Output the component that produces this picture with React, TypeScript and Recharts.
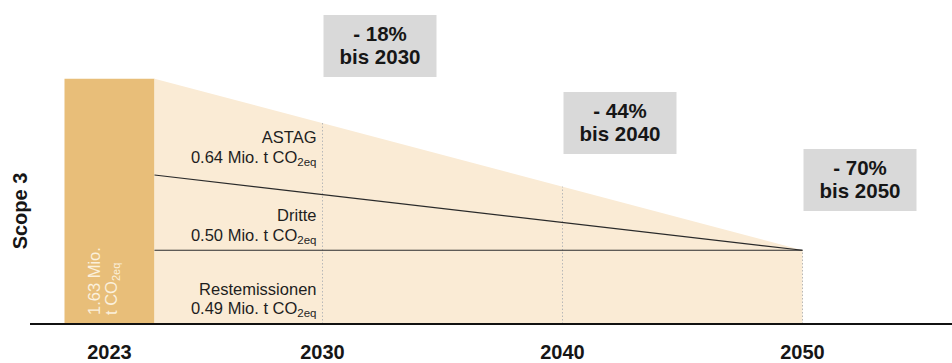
import React from "react";
import {
  ComposedChart,
  Area,
  Line,
  XAxis,
  YAxis,
  ReferenceArea,
  ReferenceLine,
} from "recharts";

// ---------- data ----------
const years = [2023, 2050];
const restemissionen = [0.49, 0.49];
const dritte = [0.5, 0.0];
const astag = [0.64, 0.0];

const baseYearLabel = "2023";
const baseTotal = 1.63;
const baseSpan = [2019.25, 2023];

const milestoneYears = [2030, 2040, 2050];
const milestoneReductions = [18, 44, 70];

const segmentNames = ["Restemissionen", "Dritte", "ASTAG"];
const segmentValues = ["0.49", "0.50", "0.64"];

// ---------- style / layout ----------
const FONT = "'Liberation Sans', Arial, Helvetica, sans-serif";
const BAR = "#E8BE79";
const AREA = "#FAEBD5";
const LINE = "#2a2a2a";
const BOX = "#D9D9D9";
const TEXT = "#161616";
const BOX_TOPS = [15, 92, 149];
const BOX_W = 113;
const BOX_H = 62;
// baselines (px) for segment labels: [name, value] per segment
const SEG_BASELINES = [
  [295, 314],
  [221, 241],
  [143, 163],
];

const barCenter = (baseSpan[0] + baseSpan[1]) / 2;
const ticks = [barCenter, ...milestoneYears];

const rows = years.map((year, i) => ({
  year,
  rest: restemissionen[i],
  dritte: dritte[i],
  astag: astag[i],
}));

const BarLabel = (props: any) => {
  const vb = props.viewBox || {};
  const bottom = vb.y + vb.height - 9;
  const x1 = vb.x + 35;
  const x2 = vb.x + 52;
  return (
    <g fontFamily={FONT} fill="#FBF0DC" fontSize={16.5}>
      <text x={x1} y={bottom} transform={`rotate(-90, ${x1}, ${bottom})`} textAnchor="start">
        {`${baseTotal.toFixed(2)} Mio.`}
      </text>
      <text x={x2} y={bottom} transform={`rotate(-90, ${x2}, ${bottom})`} textAnchor="start">
        t CO
        <tspan fontSize={11} dy={3}>2eq</tspan>
      </text>
    </g>
  );
};

const ScopeLabel = () => (
  <text
    x={27}
    y={211}
    transform="rotate(-90, 27, 211)"
    textAnchor="middle"
    fontFamily={FONT}
    fontWeight={700}
    fontSize={20}
    fill={TEXT}
  >
    Scope 3
  </text>
);

const MilestoneLabel = (props: any) => {
  const { viewBox, idx } = props;
  const left = viewBox.x + 1;
  const top = BOX_TOPS[idx];
  const cx = left + BOX_W / 2;
  return (
    <g fontFamily={FONT}>
      <rect x={left} y={top} width={BOX_W} height={BOX_H} fill={BOX} />
      <text x={cx} y={top + 26} textAnchor="middle" fontWeight={700} fontSize={20.5} fill={TEXT}>
        {`- ${milestoneReductions[idx]}%`}
      </text>
      <text x={cx} y={top + 49} textAnchor="middle" fontWeight={700} fontSize={20.5} fill={TEXT}>
        {`bis ${milestoneYears[idx]}`}
      </text>
      {idx === 0 &&
        segmentNames.map((name, i) => {
          const xr = viewBox.x - 6;
          return (
            <g key={name} fill="#1e1e1e" fontSize={16.5}>
              <text x={xr} y={SEG_BASELINES[i][0]} textAnchor="end">
                {name}
              </text>
              <text x={xr} y={SEG_BASELINES[i][1]} textAnchor="end">
                {`${segmentValues[i]} Mio. t CO`}
                <tspan fontSize={11.5} dy={3}>2eq</tspan>
              </text>
            </g>
          );
        })}
    </g>
  );
};

export default function App() {
  return (
    <div style={{ position: "absolute", left: 0, top: 0, width: 952, height: 363, background: "#fff" }}>
      <ComposedChart
        width={952}
        height={363}
        data={rows}
        margin={{ top: 23, right: 0, bottom: 0, left: 0 }}
      >
        <XAxis
          dataKey="year"
          type="number"
          domain={[2017.8125, 2056.229]}
          allowDataOverflow
          ticks={ticks}
          interval={0}
          tickFormatter={(v: number) => (v === barCenter ? baseYearLabel : String(v))}
          axisLine={{ stroke: "#111", strokeWidth: 2 }}
          tickLine={false}
          tickSize={6}
          tickMargin={14.5}
          height={39}
          tick={{ fill: TEXT, fontSize: 20, fontWeight: 700, fontFamily: FONT }}
        />
        <YAxis
          type="number"
          domain={[0, 2]}
          allowDataOverflow
          width={30}
          tick={false}
          axisLine={false}
          tickLine={false}
          label={<ScopeLabel />}
        />
        <ReferenceArea
          x1={baseSpan[0]}
          x2={baseSpan[1]}
          y1={0}
          y2={baseTotal}
          fill={BAR}
          fillOpacity={1}
          stroke="none"
          label={<BarLabel />}
        />
        <Area stackId="s" dataKey="rest" type="linear" fill={AREA} fillOpacity={1} stroke="none" isAnimationActive={false} />
        <Area stackId="s" dataKey="dritte" type="linear" fill={AREA} fillOpacity={1} stroke="none" isAnimationActive={false} />
        <Area stackId="s" dataKey="astag" type="linear" fill={AREA} fillOpacity={1} stroke="none" isAnimationActive={false} />
        {milestoneYears.map((y, i) => (
          <ReferenceLine
            key={y}
            segment={[
              { x: y, y: 0 },
              { x: y, y: baseTotal * (1 - milestoneReductions[i] / 100) },
            ]}
            stroke="#b8b8b8"
            strokeWidth={1}
            strokeDasharray="1.5 2"
            label={<MilestoneLabel idx={i} />}
          />
        ))}
        <Line
          dataKey={(r: any) => r.rest}
          type="linear"
          stroke={LINE}
          strokeWidth={1.2}
          dot={false}
          activeDot={false}
          isAnimationActive={false}
        />
        <Line
          dataKey={(r: any) => r.rest + r.dritte}
          type="linear"
          stroke={LINE}
          strokeWidth={1.2}
          dot={false}
          activeDot={false}
          isAnimationActive={false}
        />
      </ComposedChart>
    </div>
  );
}
